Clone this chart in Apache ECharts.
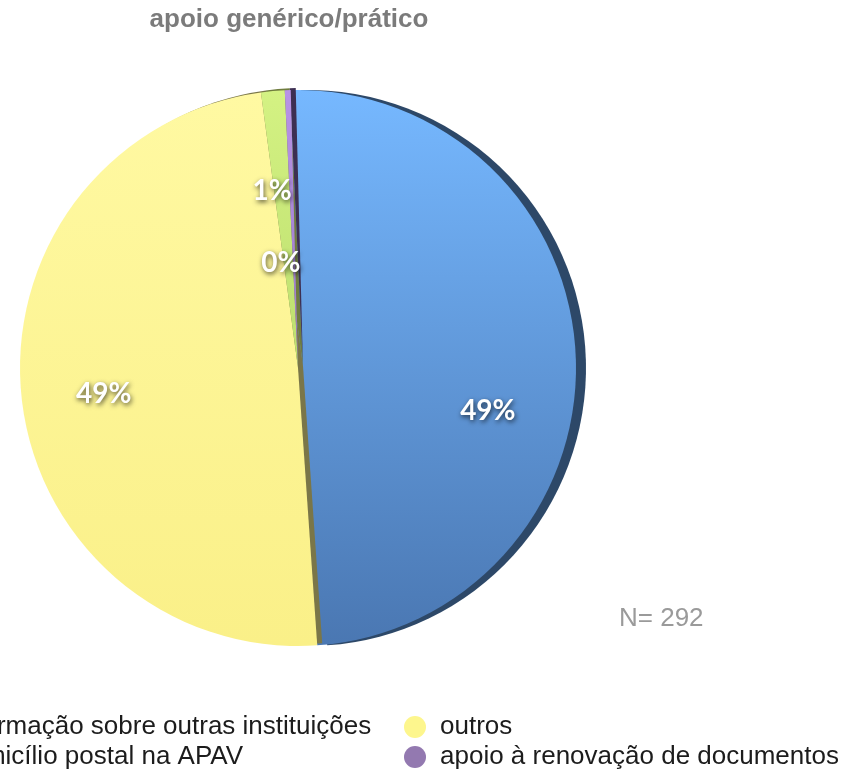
<!DOCTYPE html>
<html>
<head>
<meta charset="utf-8">
<script src="https://cdn.jsdelivr.net/npm/echarts@6/dist/echarts.min.js"></script>
<style>
  html, body { margin: 0; padding: 0; background: #fff; }
  #chart { width: 859px; height: 775px; }
</style>
</head>
<body>
<div id="chart"></div>
<script>
// categorias e valores (N = 292)
var categories = ['informação sobre outras instituições', 'outros', 'domicílio postal na APAV', 'apoio à renovação de documentos'];
var values = [144, 143, 4, 1];
var percentLabels = ['49%', '49%', '1%', '0%'];
var total = 292;

var topColors = ['#76b8ff', '#fff9a2', '#d4f283', '#b893e6'];
var bottomColors = ['#4a77b2', '#faf088', '#bcde6e', '#9a7ac8'];
var sideColors = ['#2d4868', '#7a7648', '#6f7c3e', '#3d2f52'];
var legendColors = ['#5f97d8', '#fdf68d', '#c6e77a', '#9379b0'];

var myChart = echarts.init(document.getElementById('chart'));

var data = values.map(function (v, i) {
    return {
        value: v,
        name: categories[i],
        itemStyle: {
            color: new echarts.graphic.LinearGradient(0, 0, 0, 1, [
                { offset: 0, color: topColors[i] },
                { offset: 1, color: bottomColors[i] }
            ]),
            shadowColor: sideColors[i],
            shadowBlur: 0,
            shadowOffsetX: i === 0 ? 10 : 5,
            shadowOffsetY: i === 0 ? 0 : -2
        },
        label: { formatter: percentLabels[i] }
    };
});

// deslocamentos dos rótulos
var labelShift = [[48, 50], [-53, 12], [-13, -36], [-12, 37]];

function legendItems(idx) {
    return idx.map(function (i) {
        return { name: categories[i], itemStyle: { color: legendColors[i] } };
    });
}

var legendText = {
    color: '#1c1c1c',
    fontSize: 26,
    lineHeight: 26,
    fontFamily: 'Liberation Sans',
    padding: [0, 0, 0, 9]
};

option = {
    backgroundColor: '#ffffff',
    title: {
        text: 'apoio genérico/prático',
        left: 284,
        top: 2,
        textAlign: 'center',
        textStyle: {
            color: '#7b7b7b',
            fontSize: 26,
            fontWeight: 'bold',
            fontFamily: 'Liberation Sans'
        }
    },
    legend: [
        {
            data: legendItems([0, 2]),
            orient: 'vertical',
            left: -81,
            top: 714,
            icon: 'circle',
            itemWidth: 22,
            itemHeight: 26,
            itemGap: 4,
            padding: 0,
            selectedMode: false,
            textStyle: legendText
        },
        {
            data: legendItems([1, 3]),
            orient: 'vertical',
            left: 404,
            top: 714,
            icon: 'circle',
            itemWidth: 22,
            itemHeight: 26,
            itemGap: 4,
            padding: 0,
            selectedMode: false,
            textStyle: legendText
        }
    ],
    graphic: [
        {
            type: 'text',
            left: 619,
            top: 606,
            style: {
                text: 'N= ' + total,
                fill: '#9a9a9a',
                font: '26px "Liberation Sans"'
            }
        }
    ],
    series: [
        {
            name: 'apoio genérico/prático',
            type: 'pie',
            center: [298, 368],
            radius: ['0%', 278],
            startAngle: 91.5,
            clockwise: true,
            avoidLabelOverlap: false,
            silent: true,
            animation: false,
            data: data,
            label: {
                show: true,
                position: 'inside',
                color: '#fff',
                fontSize: 28,
                fontWeight: 'bold',
                fontFamily: 'Lato',
                textShadowColor: 'rgba(0,0,0,0.7)',
                textShadowBlur: 5,
                textShadowOffsetX: 1,
                textShadowOffsetY: 2
            },
            labelLine: { show: false },
            labelLayout: function (params) {
                var s = labelShift[params.dataIndex];
                return { dx: s[0], dy: s[1] };
            }
        }
    ]
};

myChart.setOption(option);
</script>
</body>
</html>
